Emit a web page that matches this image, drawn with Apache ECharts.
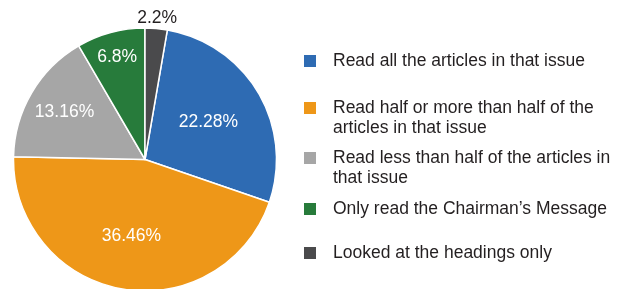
<!DOCTYPE html>
<html>
<head>
<meta charset="utf-8">
<script src="https://cdn.jsdelivr.net/npm/echarts@6/dist/echarts.min.js"></script>
<style>
html,body{margin:0;padding:0;background:#fff;}
#chart{width:630px;height:289px;}
</style>
</head>
<body>
<div id="chart"></div>
<script>
const categories = [
  'Read all the articles in that issue',
  'Read half or more than half of the articles in that issue',
  'Read less than half of the articles in that issue',
  "Only read the Chairman\u2019s Message",
  'Looked at the headings only'
];
const legendLabels = [
  'Read all the articles in that issue',
  'Read half or more than half of the\narticles in that issue',
  'Read less than half of the articles in\nthat issue',
  "Only read the Chairman\u2019s Message",
  'Looked at the headings only'
];
const values = [22.28, 36.46, 13.16, 6.8, 2.2];
const colors = ['#2e6bb3', '#ee9718', '#a6a6a6', '#277b3b', '#4a4a4c'];

const total = values.reduce((a, b) => a + b, 0);
const lastShare = values[values.length - 1] / total;
const startAngle = 90 - 360 * lastShare;

const FONT = '"Liberation Sans", Arial, Helvetica, sans-serif';
const TEXT = '#231f20';

// layout / style settings
const CX = 145, CY = 159.5, R = 131.5;
const labelRadiusFrac = [0.56, 0.59, 0.71, 0.81, 1.08];
const legendTops = [51, 78, 128, 199, 243];

const legends = categories.map((name, i) => {
  const twoLine = legendLabels[i].indexOf('\n') >= 0;
  return {
    data: [name],
    orient: 'vertical',
    left: 304,
    top: legendTops[i],
    padding: 0,
    icon: 'rect',
    itemWidth: 12,
    itemHeight: 12,
    itemStyle: { borderWidth: 0 },
    selectedMode: false,
    formatter: () => (twoLine ? ' \n' : '') + legendLabels[i],
    textStyle: {
      fontFamily: FONT,
      fontSize: 17.5,
      lineHeight: 20,
      color: TEXT,
      padding: [0, 0, 0, 12]
    }
  };
});

// mid angle (degrees clockwise from 12 o'clock) of each slice, from the data
function midAngleDeg(idx) {
  let acc = 90 - startAngle; // clockwise offset of first slice start from top
  for (let k = 0; k < idx; k++) acc += 360 * values[k] / total;
  return acc + 180 * values[idx] / total;
}

const chart = echarts.init(document.getElementById('chart'));
chart.setOption({
  animation: false,
  backgroundColor: '#fff',
  color: colors,
  legend: legends,
  series: [{
    type: 'pie',
    center: [CX, CY],
    radius: [0, R],
    startAngle: startAngle,
    clockwise: true,
    itemStyle: { borderColor: '#fff', borderWidth: 1.5 },
    label: {
      show: true,
      position: 'inside',
      formatter: p => p.value + '%',
      color: '#fff',
      fontFamily: FONT,
      fontSize: 17.5
    },
    labelLine: { show: false },
    labelLayout: function (p) {
      const a = midAngleDeg(p.dataIndex) * Math.PI / 180;
      const d = labelRadiusFrac[p.dataIndex] * R;
      return {
        x: CX + d * Math.sin(a),
        y: CY - d * Math.cos(a),
        align: 'center',
        verticalAlign: 'middle'
      };
    },
    emphasis: { disabled: true },
    data: categories.map((name, i) => {
      const d = { name: name, value: values[i] };
      if (i === categories.length - 1) {
        d.label = { position: 'outside', color: TEXT };
        d.labelLine = { show: false };
      }
      return d;
    })
  }]
});
</script>
</body>
</html>
